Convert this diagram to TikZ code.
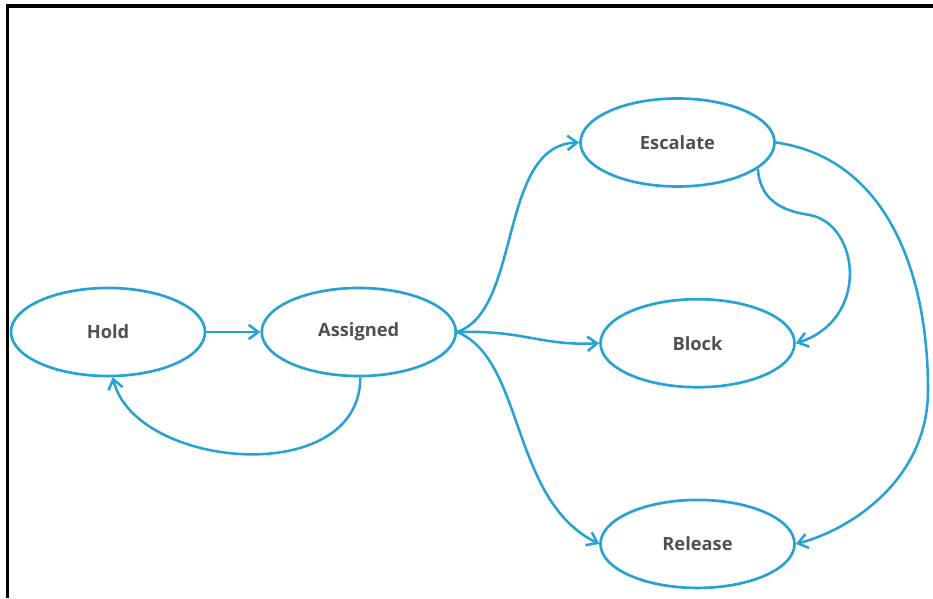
\documentclass[tikz,border=0pt]{standalone}
\usepackage{fontspec}
\setmainfont{Open Sans}
\usetikzlibrary{arrows.meta,positioning,shapes.geometric}
\definecolor{flowblue}{RGB}{38,162,212}
\definecolor{labelgray}{RGB}{80,80,80}
\tikzset{
	phase/.style={ellipse,draw=flowblue,line width=1.9pt,minimum width=4.85cm,minimum height=2.2cm,inner sep=0pt,text=labelgray,font=\bfseries\fontsize{13}{15}\selectfont},
	link/.style={-{Straight Barb[length=2.4mm,width=3.6mm]},draw=flowblue,line width=1.8pt}
}

\begin{document}
\begin{tikzpicture}[x=0.025cm,y=-0.025cm]
		\useasboundingbox (0,0) rectangle (933,598);
		\draw[line width=2.2pt] (7.5,598) -- (7.5,6) -- (933,6);
		
		\node[phase] (hold) at (108,332) {Hold};
		\node[phase,right=1.35cm of hold] (assigned) {Assigned};
		\node[phase,right=3.55cm of assigned,yshift=-0.28cm] (block) {Block};
		\node[phase,above=2.75cm of block,xshift=-0.5cm] (escalate) {Escalate};
		\node[phase,below=2.75cm of block] (release) {Release};
		
		\draw[link] (hold) -- (assigned);
		\draw[link] (assigned.-88) .. controls +(0,112) and +(22,92) .. (hold.-84);
		\draw[link] (assigned.east) .. controls (522,310) and (498,145) .. (escalate.west);
		\draw[link] (assigned.east) .. controls (525,330) and (540,346) .. (block.west);
		\draw[link] (assigned.east) .. controls (525,360) and (510,500) .. (release.west);
		\draw[link] (escalate.-18) .. controls (760,205) and (790,212) .. (810,215)
			.. controls (860,225) and (870,320) .. (block.east);
		\draw[link] (escalate.east) .. controls (885,158) and (928,270) .. (928,390)
			.. controls (928,480) and (850,530) .. (release.east);
\end{tikzpicture}
\end{document}
